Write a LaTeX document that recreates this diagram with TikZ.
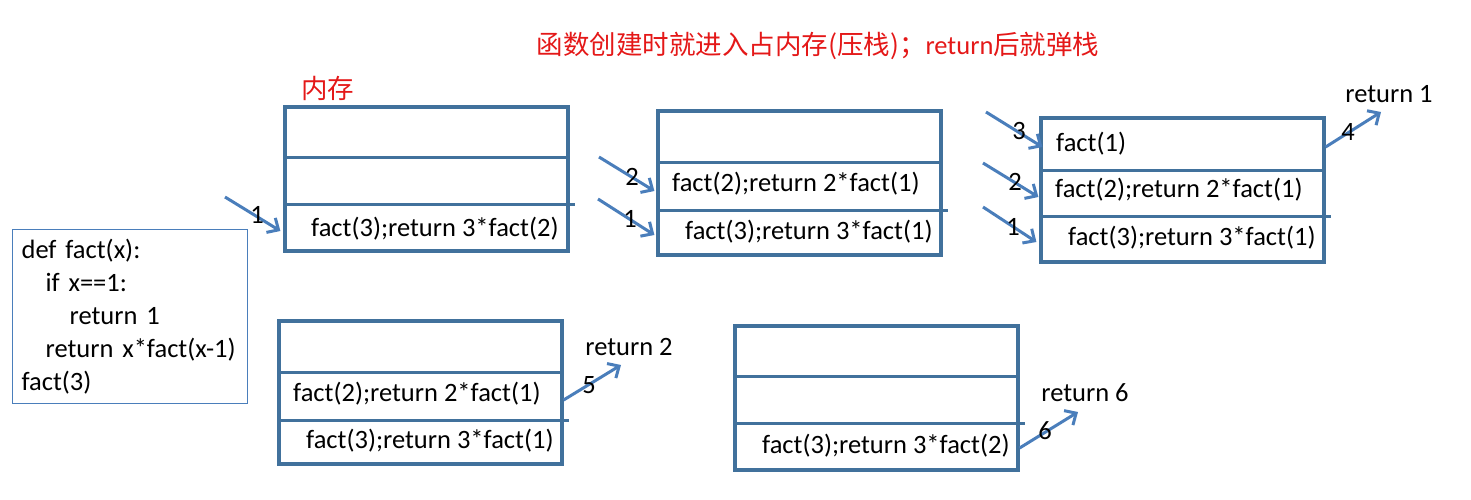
\documentclass[tikz,border=0pt]{standalone}
\usepackage{fontspec}
\setmainfont{Carlito}
\newfontfamily\cjk{Noto Sans CJK SC}
\usetikzlibrary{arrows.meta}
\definecolor{stapelblau}{RGB}{65,113,156}
\definecolor{pfeilblau}{RGB}{74,126,187}
\definecolor{titelrot}{RGB}{228,24,24}
\tikzset{
  stapel/.style={draw=stapelblau, line width=3.2pt, minimum width=283pt, minimum height=144pt, inner sep=0pt},
  trenn/.style={stapelblau, line width=3pt},
  pfeil/.style={pfeilblau, line width=3pt, -{Straight Barb[length=9pt,width=17pt]}},
  zeile/.style={anchor=west, inner sep=0pt},
  nummer/.style={inner sep=0pt},
}
\begin{document}
\begin{tikzpicture}[x=1pt, y=-1pt, every node/.style={font=\fontsize{26.5}{33}\selectfont}]
  \useasboundingbox (0,0) rectangle (1471,500);
  % Ueberschrift
  \node[titelrot, inner sep=0pt] (titel) at (818,46) {{\cjk\fontsize{26.5}{30}\selectfont 函数创建时就进入占内存(压栈)；}return{\cjk\fontsize{26.5}{30}\selectfont 后就弹栈}};
  \node[titelrot, inner sep=0pt] (speicher) at (327.5,88) {\cjk\fontsize{26.5}{30}\selectfont 内存};
  % Quelltext
  \node[draw=pfeilblau, line width=1.2pt, anchor=north west, minimum width=235pt, minimum height=174pt,
        inner xsep=9pt, text width=217pt, align=left] (code) at (12,229)
    {def fact(x):\\ \hspace*{24pt}if x==1:\\ \hspace*{48pt}return 1\\ \hspace*{24pt}return x*fact(x-1)\\ fact(3)};
  % Stapelrahmen
  \node[stapel] (s1) at (426.5,179) {};
  \node[stapel] (s2) at (799.5,183) {};
  \node[stapel] (s3) at (1182.5,190) {};
  \node[stapel, minimum height=143pt] (s4) at (420.5,392.5) {};
  \node[stapel] (s5) at (876.5,398) {};
  % Trennlinien (untere etwas ueberstehend)
  \foreach \s/\a/\b in {s1/157/204, s2/162/210, s3/170/216, s4/372/420, s5/376/423}{
    \draw[trenn] (\s.west |- 0,\a) -- (\s.east |- 0,\a);
    \draw[trenn] (\s.west |- 0,\b) -- ([xshift=5pt]\s.east |- 0,\b);
  }
  % Eintraege
  \node[zeile] (s1c) at (311,229) {fact(3);return 3*fact(2)};
  \node[zeile] (s2b) at (672,184) {fact(2);return 2*fact(1)};
  \node[zeile] (s2c) at (685,232) {fact(3);return 3*fact(1)};
  \node[zeile] (s3a) at (1056,144) {fact(1)};
  \node[zeile] (s3b) at (1055,190) {fact(2);return 2*fact(1)};
  \node[zeile] (s3c) at (1068,238) {fact(3);return 3*fact(1)};
  \node[zeile] (s4b) at (293,394) {fact(2);return 2*fact(1)};
  \node[zeile] (s4c) at (306,441) {fact(3);return 3*fact(1)};
  \node[zeile] (s5c) at (762,446) {fact(3);return 3*fact(2)};
  % Push-Pfeile
  \coordinate (p1) at (225,197);
  \coordinate (p2a) at (599,157);
  \coordinate (p2b) at (598,199);
  \coordinate (p3a) at (986,112);
  \coordinate (p3b) at (983,163);
  \coordinate (p3c) at (983,207);
  \draw[pfeil] (p1) -- ([xshift=-3pt]s1.west |- 0,231);
  \draw[pfeil] (p2a) -- ([xshift=-2pt]s2.west |- 0,191);
  \draw[pfeil] (p2b) -- ([xshift=-2pt]s2.west |- 0,235);
  \draw[pfeil] (p3a) -- ([xshift=3pt]s3.west |- 0,147);
  \draw[pfeil] (p3b) -- ([xshift=-1pt]s3.west |- 0,197);
  \draw[pfeil] (p3c) -- ([xshift=-3pt]s3.west |- 0,242);
  \node[nummer] (n1) at (257,215) {1};
  \node[nummer] (n2a) at (632,177) {2};
  \node[nummer] (n2b) at (630,219) {1};
  \node[nummer] (n3a) at (1019,131) {3};
  \node[nummer] (n3b) at (1015,182) {2};
  \node[nummer] (n3c) at (1013,227) {1};
  % Pop-Pfeile
  \coordinate (r4) at (1381,112);
  \coordinate (r5) at (621,365);
  \coordinate (r6) at (1078,412);
  \draw[pfeil] (s3.east |- 0,147) -- (r4);
  \draw[pfeil] (s4.east |- 0,400) -- (r5);
  \draw[pfeil] (s5.east |- 0,448) -- (r6);
  \node[nummer] (n4) at (1348,132) {4};
  \node[nummer] (n5) at (589,385) {5};
  \node[nummer] (n6) at (1045,431) {6};
  \node[nummer] (ret1) at (1389,94) {return 1};
  \node[nummer] (ret2) at (629,347) {return 2};
  \node[nummer] (ret6) at (1085,393) {return 6};
\end{tikzpicture}
\end{document}
